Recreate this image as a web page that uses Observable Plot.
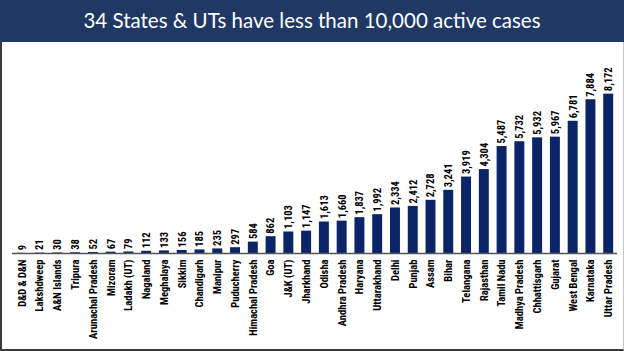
<!DOCTYPE html>
<html>
<head>
<meta charset="utf-8">
<script src="https://cdn.jsdelivr.net/npm/d3@7"></script>
<script src="https://cdn.jsdelivr.net/npm/@observablehq/plot@0.6"></script>
<style>
  html, body { margin: 0; padding: 0; background: #fff; }
  #wrap { position: relative; width: 624px; height: 351px; overflow: hidden; background: #fff; }
  #banner { height: 42px; background: #1F3864; color: #fff; font-family: Lato, "Open Sans", sans-serif;
            font-size: 20.5px; line-height: 41px; text-align: center; }
  #frame { position: absolute; left: 0; top: 42px; width: 621px; height: 307px;
           border-left: 2px solid #3a3a3a; border-bottom: 2px solid #3a3a3a; border-right: 1px solid #c8c8c8; box-sizing: content-box; pointer-events: none; }
  #chart svg { display: block; }
</style>
</head>
<body>
<div id="wrap">
  <div id="banner">34 States &amp; UTs have less than 10,000 active cases</div>
  <div id="chart"></div>
  <div id="frame"></div>
</div>
<script>
const states = ["D&D & D&N", "Lakshdweep", "A&N Islands", "Tripura", "Arunachal Pradesh", "Mizoram",
  "Ladakh (UT)", "Nagaland", "Meghalaya", "Sikkim", "Chandigarh", "Manipur", "Puducherry",
  "Himachal Pradesh", "Goa", "J&K (UT)", "Jharkhand", "Odisha", "Andhra Pradesh", "Haryana",
  "Uttarakhand", "Delhi", "Punjab", "Assam", "Bihar", "Telangana", "Rajasthan", "Tamil Nadu",
  "Madhya Pradesh", "Chhattisgarh", "Gujarat", "West Bengal", "Karnataka", "Uttar Pradesh"];
const activeCases = [9, 21, 30, 38, 52, 67, 79, 112, 133, 156, 185, 235, 297, 584, 862, 1103, 1147,
  1613, 1660, 1837, 1992, 2334, 2412, 2728, 3241, 3919, 4304, 5487, 5732, 5932, 5967, 6781, 7884, 8172];

const data = states.map((s, i) => ({state: s, value: activeCases[i]}));
const font = '"Liberation Sans Narrow", "Roboto Condensed", "Liberation Sans", sans-serif';

const chart = Plot.plot({
  width: 624,
  height: 309,
  marginTop: 16,
  marginBottom: 98,
  marginLeft: 9,
  marginRight: 3,
  style: {fontFamily: font, fontSize: "10.5px", fontWeight: "bold", color: "#000", background: "transparent"},
  x: {domain: states, padding: 0.44, round: false, label: null},
  y: {domain: [0, 10000], axis: null},
  marks: [
    Plot.barY(data, {x: "state", y: "value", fill: "#0B2468"}),
    Plot.ruleY([0], {stroke: "#555", strokeWidth: 1.5, insetLeft: 3, insetRight: 4}),
    Plot.text(data, {x: "state", y: "value", text: d => d3.format(",")(d.value), rotate: -90,
      textAnchor: "start", lineAnchor: "middle", dy: -3, fill: "#000",
      fontFamily: font, fontSize: 10.5, fontWeight: "bold"}),
    Plot.axisX({tickSize: 0, tickPadding: 6, tickRotate: -90, fontFamily: font, fontSize: 10.5, fontWeight: "bold", fill: "#000"})
  ]
});
document.getElementById("chart").appendChild(chart);
</script>
</body>
</html>
